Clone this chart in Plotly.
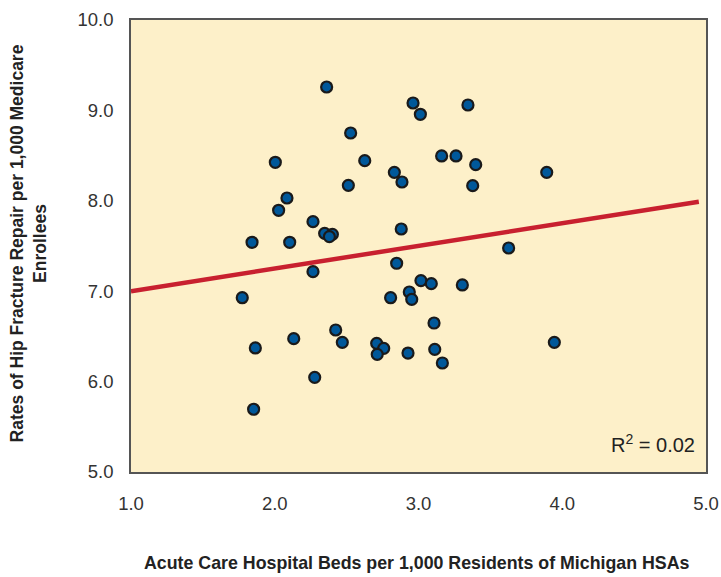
import plotly.graph_objects as go

beds = [2.361, 2.962, 3.013, 2.528, 2.004, 2.626, 2.832, 2.885, 2.512, 2.085,
        2.027, 2.266, 2.880, 1.842, 2.104, 2.347, 2.401, 2.380, 3.344, 3.161,
        3.261, 3.398, 3.377, 3.892, 3.627, 2.848, 2.266, 1.774, 3.017, 3.089,
        2.936, 2.953, 2.806, 3.305, 2.424, 2.132, 2.470, 1.865, 2.709, 2.758,
        2.713, 2.927, 3.108, 3.113, 3.166, 3.945, 2.278, 1.853]
rates = [9.259, 9.082, 8.957, 8.750, 8.426, 8.444, 8.315, 8.208, 8.171, 8.031,
         7.895, 7.769, 7.688, 7.541, 7.541, 7.640, 7.629, 7.603, 9.060, 8.496,
         8.496, 8.400, 8.167, 8.315, 7.478, 7.309, 7.216, 6.928, 7.117, 7.083,
         6.991, 6.910, 6.928, 7.069, 6.571, 6.475, 6.434, 6.372, 6.423, 6.368,
         6.302, 6.316, 6.648, 6.357, 6.206, 6.434, 6.047, 5.694]

trend_x = [1.0, 4.95]
trend_y = [7.0, 7.99]

x_ticks = [1.0, 2.0, 3.0, 4.0, 5.0]
y_ticks = [5.0, 6.0, 7.0, 8.0, 9.0, 10.0]

font_family = "Liberation Sans, Arial, sans-serif"

fig = go.Figure()
fig.add_trace(go.Scatter(x=trend_x, y=trend_y, mode="lines",
                         line=dict(color="#C8202F", width=4.5), hoverinfo="skip"))
fig.add_trace(go.Scatter(x=beds, y=rates, mode="markers",
                         marker=dict(size=11, color="#00589A",
                                     line=dict(color="#1A1A1A", width=2.2))))

fig.update_layout(
    width=721, height=577,
    margin=dict(l=131, r=15, t=20, b=105),
    paper_bgcolor="white",
    plot_bgcolor="#FDF0C9",
    showlegend=False,
    font=dict(family=font_family, size=18.5, color="#333333"),
    xaxis=dict(range=[1.0, 5.0], tickvals=x_ticks,
               ticktext=[f"{v:.1f}" for v in x_ticks],
               showgrid=False, zeroline=False, showline=True, mirror=True,
               linecolor="#555555", linewidth=1.5, ticks="",
               ticklabelstandoff=14, automargin=False),
    yaxis=dict(range=[5.0, 10.0], tickvals=y_ticks,
               ticktext=[f"{v:.1f}" for v in y_ticks],
               showgrid=False, zeroline=False, showline=True, mirror=True,
               linecolor="#555555", linewidth=1.5, ticks="",
               ticklabelstandoff=12, automargin=False),
    annotations=[
        dict(text="<b>Acute Care Hospital Beds per 1,000 Residents of Michigan HSAs</b>",
             xref="paper", yref="paper", x=0.497, y=-0.201, xanchor="center",
             yanchor="middle", showarrow=False,
             font=dict(family=font_family, size=17.8, color="#222222")),
        dict(text="<b>Rates of Hip Fracture Repair per 1,000 Medicare<br>Enrollees</b>",
             xref="paper", yref="paper", x=-0.178, y=0.505, xanchor="center",
             yanchor="middle", textangle=-90, showarrow=False,
             font=dict(family=font_family, size=17.5, color="#222222")),
        dict(text="R<sup>2</sup> = 0.02", xref="paper", yref="paper",
             x=0.985, y=0.064, xanchor="right", yanchor="middle",
             showarrow=False,
             font=dict(family=font_family, size=20, color="#222222")),
    ],
)

fig.write_html(
    "out.html",
    config={"displayModeBar": False},
    post_script="document.body.style.margin='0';document.body.style.overflow='hidden';",
)
